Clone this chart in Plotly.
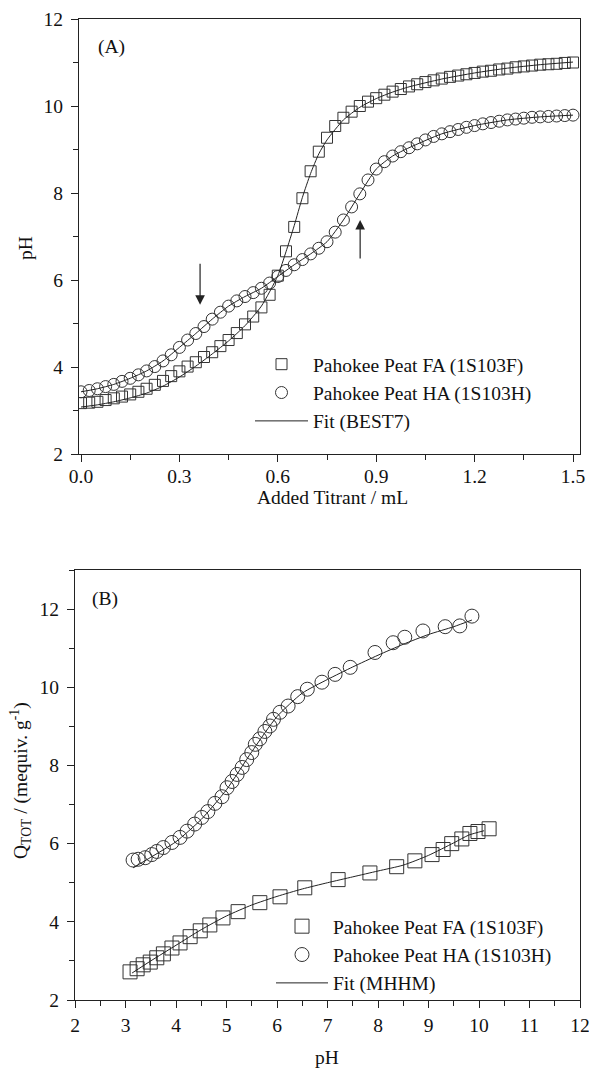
import plotly.graph_objects as go

# ---------------- Panel A data ----------------
titrant_ml = [0.000, 0.025, 0.050, 0.075, 0.100, 0.125, 0.150, 0.175, 0.200, 0.225,
              0.250, 0.275, 0.300, 0.325, 0.350, 0.375, 0.400, 0.425, 0.450, 0.475,
              0.500, 0.525, 0.550, 0.575, 0.600, 0.625, 0.650, 0.675, 0.700, 0.725,
              0.750, 0.775, 0.800, 0.825, 0.850, 0.875, 0.900, 0.925, 0.950, 0.975,
              1.000, 1.025, 1.050, 1.075, 1.100, 1.125, 1.150, 1.175, 1.200, 1.225,
              1.250, 1.275, 1.300, 1.325, 1.350, 1.375, 1.400, 1.425, 1.450, 1.475, 1.500]
ph_fa = [3.17, 3.18, 3.20, 3.24, 3.28, 3.32, 3.37, 3.43, 3.50, 3.59,
         3.68, 3.79, 3.90, 4.01, 4.11, 4.23, 4.34, 4.48, 4.62, 4.78,
         4.98, 5.16, 5.37, 5.66, 6.10, 6.66, 7.22, 7.88, 8.50, 8.95,
         9.27, 9.54, 9.73, 9.87, 10.00, 10.10, 10.18, 10.26, 10.33, 10.39,
         10.45, 10.50, 10.55, 10.59, 10.63, 10.67, 10.70, 10.73, 10.76, 10.79,
         10.81, 10.84, 10.86, 10.89, 10.91, 10.93, 10.95, 10.96, 10.97, 10.99, 11.00]
ph_ha = [3.43, 3.46, 3.50, 3.55, 3.60, 3.67, 3.74, 3.82, 3.91, 4.01,
         4.14, 4.28, 4.45, 4.62, 4.77, 4.93, 5.10, 5.26, 5.40, 5.52,
         5.62, 5.71, 5.81, 5.93, 6.08, 6.22, 6.35, 6.47, 6.60, 6.73,
         6.88, 7.10, 7.38, 7.68, 7.98, 8.30, 8.55, 8.72, 8.85, 8.95,
         9.04, 9.13, 9.22, 9.30, 9.36, 9.41, 9.46, 9.51, 9.55, 9.59,
         9.62, 9.65, 9.68, 9.70, 9.72, 9.74, 9.75, 9.76, 9.77, 9.78, 9.79]

fit_a_fa_x = [0.00, 0.05, 0.10, 0.15, 0.20, 0.25, 0.30, 0.35, 0.40, 0.45, 0.50, 0.55,
              0.60, 0.625, 0.65, 0.675, 0.70, 0.725, 0.75, 0.80, 0.85, 0.90, 0.95,
              1.00, 1.10, 1.20, 1.30, 1.40, 1.50]
fit_a_fa_y = [3.08, 3.13, 3.20, 3.29, 3.40, 3.56, 3.77, 4.02, 4.30, 4.60, 4.95, 5.40,
              6.10, 6.65, 7.25, 7.90, 8.45, 8.90, 9.22, 9.68, 9.97, 10.17, 10.32,
              10.44, 10.62, 10.76, 10.87, 10.95, 11.01]
fit_a_ha_x = [0.00, 0.05, 0.10, 0.15, 0.20, 0.25, 0.30, 0.35, 0.40, 0.45, 0.50, 0.55,
              0.60, 0.65, 0.70, 0.75, 0.80, 0.85, 0.90, 0.95, 1.00, 1.10, 1.20, 1.30,
              1.40, 1.50]
fit_a_ha_y = [3.43, 3.50, 3.60, 3.74, 3.91, 4.14, 4.45, 4.77, 5.10, 5.40, 5.62, 5.81,
              6.08, 6.35, 6.60, 6.88, 7.38, 7.98, 8.55, 8.85, 9.04, 9.36, 9.55, 9.68,
              9.75, 9.79]

# arrows (tail -> tip) in data units of panel A
arrow_down = dict(x=0.363, y_tail=6.41, y_tip=5.43)
arrow_up = dict(x=0.851, y_tail=6.46, y_tip=7.38)

# ---------------- Panel B data ----------------
ph_b_fa = [3.09, 3.23, 3.35, 3.49, 3.62, 3.75, 3.92, 4.08, 4.28, 4.48, 4.67, 4.93,
           5.23, 5.66, 6.06, 6.55, 7.21, 7.84, 8.37, 8.73, 9.07, 9.29, 9.46, 9.66,
           9.82, 9.98, 10.20]
q_b_fa = [2.72, 2.80, 2.90, 2.97, 3.08, 3.18, 3.33, 3.46, 3.62, 3.77, 3.92, 4.10,
          4.26, 4.49, 4.64, 4.87, 5.08, 5.25, 5.41, 5.56, 5.72, 5.85, 6.00, 6.12,
          6.26, 6.31, 6.38]
ph_b_ha = [3.15, 3.25, 3.39, 3.52, 3.62, 3.75, 3.92, 4.08, 4.22, 4.37, 4.51, 4.63,
           4.77, 4.91, 5.01, 5.11, 5.21, 5.31, 5.40, 5.50, 5.57, 5.66, 5.76, 5.86,
           5.93, 6.06, 6.22, 6.41, 6.60, 6.89, 7.15, 7.45, 7.94, 8.30, 8.53, 8.89,
           9.33, 9.62, 9.86]
q_b_ha = [5.58, 5.60, 5.64, 5.72, 5.80, 5.90, 6.03, 6.16, 6.32, 6.50, 6.67, 6.82,
          7.03, 7.20, 7.43, 7.59, 7.77, 7.95, 8.15, 8.33, 8.54, 8.68, 8.87, 9.01,
          9.18, 9.36, 9.52, 9.76, 9.95, 10.13, 10.33, 10.51, 10.89, 11.14, 11.28, 11.44,
          11.55, 11.57, 11.82]

fit_b_fa_x = [3.13, 3.5, 4.0, 4.5, 5.0, 5.5, 6.0, 6.5, 7.0, 7.5, 8.0, 8.5, 9.0, 9.5, 9.8, 10.1]
fit_b_fa_y = [2.69, 3.00, 3.40, 3.80, 4.15, 4.43, 4.65, 4.84, 5.00, 5.15, 5.30, 5.45, 5.70,
              6.02, 6.22, 6.33]
fit_b_ha_x = [3.15, 3.5, 4.0, 4.5, 5.0, 5.5, 6.0, 6.5, 7.0, 7.5, 8.0, 8.5, 9.0, 9.5, 9.86]
fit_b_ha_y = [5.38, 5.65, 6.05, 6.62, 7.38, 8.35, 9.25, 9.85, 10.20, 10.52, 10.82, 11.10,
              11.35, 11.55, 11.72]

# ---------------- styling ----------------
W, H = 589, 1071
FONT = "Liberation Serif, Times New Roman, serif"
INK = "#222222"
MK = "#333333"
FS = 19.5

fig = go.Figure()

# Panel A traces
fig.add_trace(go.Scatter(x=titrant_ml, y=ph_fa, mode="markers", name="Pahokee Peat FA (1S103F)",
                         marker=dict(symbol="square-open", size=11, color=MK, line=dict(width=1)),
                         xaxis="x", yaxis="y", legend="legend"))
fig.add_trace(go.Scatter(x=titrant_ml, y=ph_ha, mode="markers", name="Pahokee Peat HA (1S103H)",
                         marker=dict(symbol="circle-open", size=12, color=MK, line=dict(width=1)),
                         xaxis="x", yaxis="y", legend="legend"))
fig.add_trace(go.Scatter(x=fit_a_fa_x, y=fit_a_fa_y, mode="lines", name="Fit (BEST7)",
                         line=dict(color=INK, width=1, shape="spline", smoothing=0.6),
                         xaxis="x", yaxis="y", legend="legend"))
fig.add_trace(go.Scatter(x=fit_a_ha_x, y=fit_a_ha_y, mode="lines", showlegend=False,
                         line=dict(color=INK, width=1, shape="spline", smoothing=0.6),
                         xaxis="x", yaxis="y"))

# Panel B traces
fig.add_trace(go.Scatter(x=ph_b_fa, y=q_b_fa, mode="markers", name="Pahokee Peat FA (1S103F)",
                         marker=dict(symbol="square-open", size=14, color=MK, line=dict(width=1)),
                         xaxis="x2", yaxis="y2", legend="legend2"))
fig.add_trace(go.Scatter(x=ph_b_ha, y=q_b_ha, mode="markers", name="Pahokee Peat HA (1S103H)",
                         marker=dict(symbol="circle-open", size=14, color=MK, line=dict(width=1)),
                         xaxis="x2", yaxis="y2", legend="legend2"))
fig.add_trace(go.Scatter(x=fit_b_fa_x, y=fit_b_fa_y, mode="lines", name="Fit (MHHM)",
                         line=dict(color=INK, width=1, shape="spline", smoothing=0.6),
                         xaxis="x2", yaxis="y2", legend="legend2"))
fig.add_trace(go.Scatter(x=fit_b_ha_x, y=fit_b_ha_y, mode="lines", showlegend=False,
                         line=dict(color=INK, width=1, shape="spline", smoothing=0.6),
                         xaxis="x2", yaxis="y2"))


def px_x(p):
    return p / W


def px_y(p):
    return 1 - p / H


axis_common = dict(showgrid=False, zeroline=False, showline=True, linecolor=INK, linewidth=1.3,
                   mirror=True, ticks="outside", ticklen=7, tickwidth=1, tickcolor=INK,
                   automargin=False, ticklabeloverflow="allow",
                   tickfont=dict(family=FONT, size=FS, color="#111"))

fig.update_layout(
    width=W, height=H,
    margin=dict(l=0, r=0, t=0, b=0, pad=0, autoexpand=False),
    paper_bgcolor="white", plot_bgcolor="white",
    font=dict(family=FONT, size=FS, color="#111"),
    xaxis=dict(axis_common, domain=[px_x(79), px_x(580)], range=[-0.0061, 1.5213],
               dtick=0.3, tick0=0, tickformat=".1f", anchor="y", ticklabelstandoff=-3,
               minor=dict(ticks="outside", ticklen=5, dtick=0.15, tick0=0, tickcolor=INK)),
    yaxis=dict(axis_common, domain=[px_y(454), px_y(19)], range=[2, 12], dtick=2, anchor="x",
               ticklabelstandoff=4,
               minor=dict(ticks="outside", ticklen=5, dtick=1, tickcolor=INK)),
    xaxis2=dict(axis_common, domain=[px_x(75), px_x(580)], range=[2, 12], dtick=1, anchor="y2",
                minor=dict(ticks="outside", ticklen=5, dtick=0.5, tickcolor=INK)),
    yaxis2=dict(axis_common, domain=[px_y(1000), px_y(570)], range=[2, 13], dtick=2, tick0=0,
                anchor="x2", ticklabelstandoff=4,
                minor=dict(ticks="outside", ticklen=5, dtick=1, tickcolor=INK)),
    legend=dict(x=px_x(250), y=px_y(345), xanchor="left", yanchor="top",
                bgcolor="rgba(0,0,0,0)", itemwidth=53, font=dict(family=FONT, size=FS),
                tracegroupgap=0),
    legend2=dict(x=px_x(271), y=px_y(907), xanchor="left", yanchor="top",
                 bgcolor="rgba(0,0,0,0)", itemwidth=52, font=dict(family=FONT, size=FS),
                 tracegroupgap=0),
)


def label(text, x, y, angle=0):
    return dict(text=text, x=px_x(x), y=px_y(y), xref="paper", yref="paper",
                xanchor="center", yanchor="middle", textangle=angle, showarrow=False,
                font=dict(family=FONT, size=FS))


annotations = [
    label("(A)", 111, 47),
    label("(B)", 105, 599),
    label("Added Titrant / mL", 332, 497),
    label("pH", 25, 248, -90),
    label("pH", 327, 1057),
    label("Q<sub>TOT</sub> / (mequiv. g<sup>-1</sup>)", 20, 781, -90),
]
for a in (arrow_down, arrow_up):
    annotations.append(dict(x=a["x"], y=a["y_tip"], ax=a["x"], ay=a["y_tail"],
                            xref="x", yref="y", axref="x", ayref="y", text="",
                            showarrow=True, arrowhead=2, arrowsize=1.6, arrowwidth=1.2,
                            arrowcolor=INK))
fig.update_layout(annotations=annotations)

fig.write_html("out.html", config={"displayModeBar": False},
               post_script="document.body.style.margin='0';document.body.style.overflow='hidden';")
